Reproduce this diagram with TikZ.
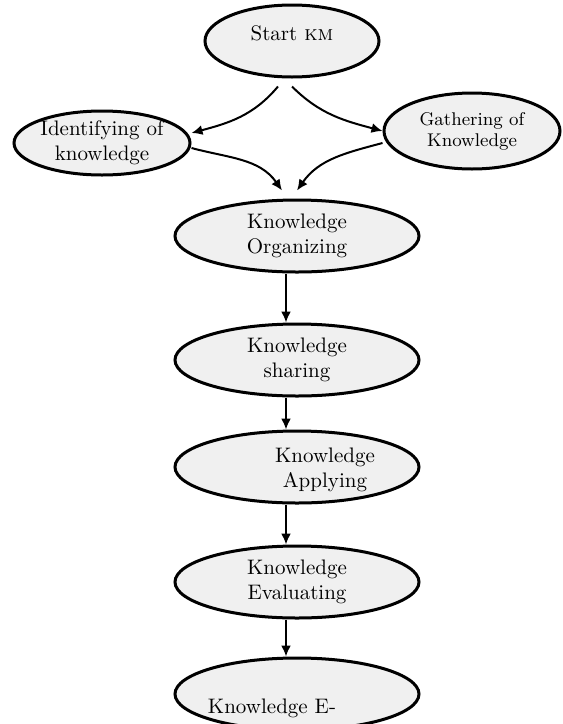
\documentclass[tikz,border=0pt]{standalone}
\usetikzlibrary{shapes.geometric,arrows.meta}
\begin{document}
\begin{tikzpicture}[x=0.5pt, y=-0.5pt,
        kmnode/.style={ellipse, draw, line width=1.5pt, fill=gray!12, inner sep=0pt, align=center,
                       minimum width=122pt, minimum height=36pt, font=\fontsize{10.5}{12.5}\selectfont},
        kmtext/.style={align=center, inner sep=0pt, font=\fontsize{10.5}{12.5}\selectfont},
        kmarrow/.style={line width=1pt, -{Latex[length=5.5pt,width=5pt]}}]
        \clip (0,0) rectangle (563,724);

        % Nodes
        \node[kmnode, minimum width=87pt, minimum height=36pt] at (292, 41)  (start)  {};
        \node[kmtext] at (292, 33)  (startt)  {Start \textsc{km}};
        \node[kmnode, minimum width=88pt, minimum height=32pt] at (102, 143)  (ident)  {Identifying of\\knowledge};
        \node[kmnode, minimum width=88pt, minimum height=38pt, font=\fontsize{9.2}{10.5}\selectfont] at (472, 131)  (gather)  {Gathering of\\Knowledge};
        \node[kmnode] at (297, 236)  (org)    {Knowledge\\Organizing};
        \node[kmnode] at (297, 360)  (share)  {Knowledge\\sharing};
        \node[kmnode] at (297, 467)  (apply)  {};
        \node[kmtext] at (325, 470)  (applyt) {Knowledge\\Applying};
        \node[kmnode] at (297, 582)  (eval)   {Knowledge\\Evaluating};
        \node[kmnode] at (297, 694)  (elast)  {};
        \node[kmtext] at (272, 708)  (elastt) {Knowledge E-};

        \draw[kmarrow]  ([xshift=-7pt, yshift=-4pt]start.south) to[out=-130, in=15] ([yshift=5pt]ident.east);
        \draw[kmarrow]  ([yshift=-4pt]start.south) to[out=-45, in=165] (gather.west);
        \draw[kmarrow]  ([yshift=-2.5pt]ident.east) to[out=-15, in=125] ([xshift=-7.5pt, yshift=4pt]org.north);
        \draw[kmarrow]  ([yshift=-6pt]gather.west) to[out=195, in=55] ([yshift=4pt]org.north);

        \draw[kmarrow]  ([xshift=-5.5pt]org.south) -- ([xshift=-5.5pt]share.north);
        \draw[kmarrow]  ([xshift=-5.5pt]share.south) -- ([xshift=-5.5pt]apply.north);
        \draw[kmarrow]  ([xshift=-5.5pt]apply.south) -- ([xshift=-5.5pt]eval.north);
        \draw[kmarrow]  ([xshift=-5.5pt]eval.south) -- ([xshift=-5.5pt]elast.north);
    \end{tikzpicture}
\end{document}
